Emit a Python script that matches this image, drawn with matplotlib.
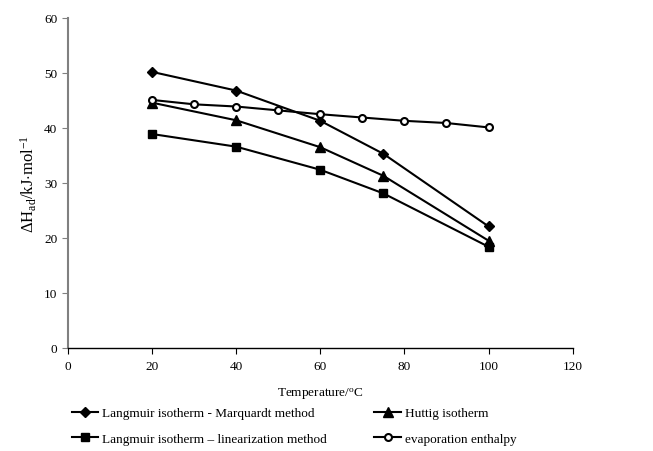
import matplotlib
matplotlib.use("Agg")
import matplotlib.pyplot as plt

plt.rcParams['font.family'] = ['Liberation Serif', 'DejaVu Serif']
plt.rcParams['mathtext.fontset'] = 'custom'
plt.rcParams['mathtext.rm'] = 'Liberation Serif'
plt.rcParams['mathtext.it'] = 'Liberation Serif:italic'
plt.rcParams['mathtext.bf'] = 'Liberation Serif:bold'

temp_main = [20, 40, 60, 75, 100]
marquardt = [50.2, 46.8, 41.3, 35.3, 22.1]
huttig = [44.6, 41.4, 36.5, 31.3, 19.5]
linearization = [38.9, 36.6, 32.4, 28.1, 18.4]
temp_evap = [20, 30, 40, 50, 60, 70, 80, 90, 100]
evaporation = [45.1, 44.3, 43.9, 43.2, 42.5, 41.9, 41.3, 40.9, 40.1]

fs = 9.5
fig = plt.figure(figsize=(6.53, 4.52), dpi=100)
ax = fig.add_axes([0.104, 0.228, 0.773, 0.73])

lw = 1.5
l1, = ax.plot(temp_main, marquardt, color='black', lw=lw, marker='D', ms=5,
              label='Langmuir isotherm - Marquardt method')
l2, = ax.plot(temp_main, huttig, color='black', lw=lw, marker='^', ms=7,
              label='Huttig isotherm')
l3, = ax.plot(temp_main, linearization, color='black', lw=lw, marker='s', ms=6,
              label='Langmuir isotherm \u2013 linearization method')
l4, = ax.plot(temp_evap, evaporation, color='black', lw=lw, marker='o', ms=5,
              mfc='white', mew=1.5, label='evaporation enthalpy')

ax.set_xlim(0, 120)
ax.set_ylim(0, 60)
ax.set_xticks(range(0, 121, 20))
ax.set_yticks(range(0, 61, 10))
ax.spines['top'].set_visible(False)
ax.spines['right'].set_visible(False)
ax.spines['left'].set_color('#808080')
ax.spines['left'].set_linewidth(1.5)
ax.spines['bottom'].set_linewidth(1.0)
ax.tick_params(axis='y', direction='out', length=4, color='#808080', labelsize=fs)
ax.tick_params(axis='x', direction='out', length=4, labelsize=fs, pad=5)

ax.set_xlabel('Temperature/$^{\\rm o}$C', fontsize=fs)
ax.xaxis.set_label_coords(0.5, -0.115)
ax.set_ylabel('$\\Delta$H$_{\\rm ad}$/kJ$\\cdot$mol$^{-1}$', fontsize=12)
ax.yaxis.set_label_coords(-0.058, 0.5)

fig.legend(handles=[l1, l3, l2, l4], ncol=2, loc='upper left',
           bbox_to_anchor=(0.102, 0.109), frameon=False, fontsize=fs,
           handlelength=2.0, columnspacing=3.6, labelspacing=1.0,
           handletextpad=0.3, borderaxespad=0.0)

fig.savefig('out.png', dpi=100)
